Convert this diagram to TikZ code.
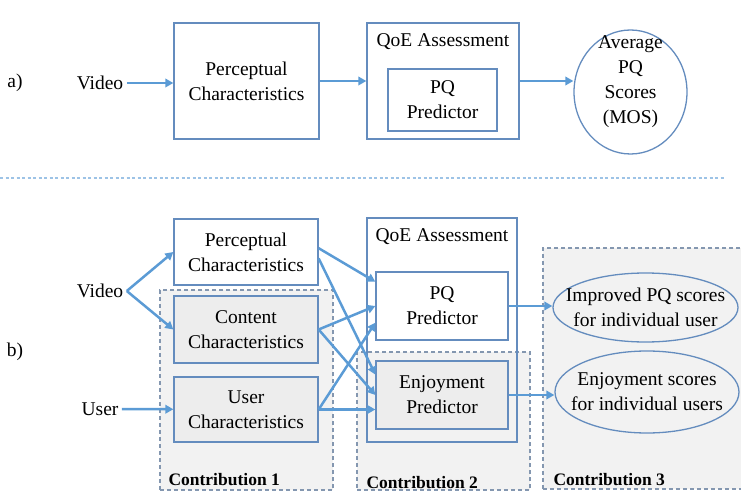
\documentclass[tikz,border=0pt]{standalone}
\usepackage{fontspec}
\setmainfont{Liberation Serif}
\usetikzlibrary{arrows.meta,shapes.geometric}
\definecolor{arrowblue}{HTML}{5B9BD5}
\definecolor{boxblue}{HTML}{648CBE}
\definecolor{dashgray}{HTML}{8497B0}
\definecolor{contgray}{HTML}{F2F2F2}
\definecolor{boxgray}{HTML}{EDEDED}
\definecolor{sepblue}{HTML}{9DC3E6}
\tikzset{
    box/.style={draw=boxblue, line width=1.3pt, fill=white, align=center},
    graybox/.style={box, fill=boxgray},
    oval/.style={draw=boxblue, ellipse, line width=1.3pt},
    contrib/.style={draw=dashgray, dash pattern=on 4pt off 3pt, line width=1.2pt, fill=contgray},
    flow/.style={draw=arrowblue, line width=2.5pt},
    clabel/.style={anchor=west, font=\fontsize{17.5}{20}\selectfont\bfseries},
}
\begin{document}
\begin{tikzpicture}[x=1pt, y=-1pt, font=\fontsize{19.5}{25}\selectfont, >={Triangle[length=8pt,width=8.5pt]}]
    \useasboundingbox (0,0) rectangle (741,494);
    \node[name=lbla] at (15,83) {a)};
    \node[name=vida] at (100,83) {Video};
    \node[name=perca, box, minimum width=145pt, minimum height=116pt] at (246.5,81) {Perceptual\\Characteristics};
    \node[name=qoea, box, minimum width=152pt, minimum height=116pt] at (443,81) {};
    \node[name=qoeatitle] at (443,42) {QoE Assessment};
    \node[name=pqa, box, minimum width=109pt, minimum height=62pt] at (442.5,100) {PQ\\Predictor};
    \node[name=mosa, oval, minimum width=113pt, minimum height=124pt,
        label={[align=center, yshift=10pt]center:Average\\PQ\\Scores\\(MOS)}] at (630.5,92) {};
    \draw[flow, ->] (vida.east) -- (vida.east -| perca.west);
    \draw[flow, ->] (perca) -- (qoea);
    \draw[flow, ->] (qoea.east) -- (qoea.east -| mosa.west);
    \draw[sepblue, line width=1.6pt, dash pattern=on 3pt off 2.5pt] (0,178) -- (725,178);

    \node[name=con1, contrib, minimum width=173pt, minimum height=200pt] at (246.5,390) {};
    \node[name=con2, contrib, minimum width=173pt, minimum height=138pt] at (443.5,421) {};
    \node[name=con3, contrib, minimum width=202pt, minimum height=241pt] at (644,368.5) {};
    \node[name=lblb] at (15,352) {b)};
    \node[name=vidb] at (100,291) {Video};
    \node[name=userb] at (100,409) {User};
    \node[name=percb, box, minimum width=144pt, minimum height=66pt] at (246,252) {Perceptual\\Characteristics};
    \node[name=contb, graybox, minimum width=144pt, minimum height=67pt] at (246,329.5) {Content\\Characteristics};
    \node[name=userc, graybox, minimum width=144pt, minimum height=65pt] at (246,409.5) {User\\Characteristics};
    \node[name=qoeb, box, fill=none, minimum width=150pt, minimum height=224pt] at (442,330) {};
    \node[name=qoebtitle] at (442,237) {QoE Assessment};
    \node[name=pqb, box, minimum width=132pt, minimum height=68pt] at (442,306) {PQ\\Predictor};
    \node[name=enjb, graybox, minimum width=132pt, minimum height=68pt] at (442,395) {Enjoyment\\Predictor};
    \node[name=imps, oval, minimum width=185pt, minimum height=69pt,
        label={[align=center]center:Improved PQ scores\\for individual user}] at (645.5,307.5) {};
    \node[name=enjs, oval, minimum width=184pt, minimum height=82pt,
        label={[align=center]center:Enjoyment scores\\for individual users}] at (647,392) {};
    \node[name=cl1, clabel] at (165,480) {Contribution 1};
    \node[name=cl2, clabel] at (363,483) {Contribution 2};
    \node[name=cl3, clabel] at (550,480) {Contribution 3};
    \draw[flow, ->] (vidb.east) -- (percb.west);
    \draw[flow, ->] (vidb.east) -- (contb.west);
    \draw[flow, ->] (userb) -- (userc);
    \draw[flow, ->] (percb.3) -- (pqb.160);
    \draw[flow, ->] (percb.-5) -- (enjb.163);
    \draw[flow, ->] (contb.east) -- (pqb.west);
    \draw[flow, ->] (contb.east) -- (enjb.west);
    \draw[flow, ->] (userc.east) -- (pqb.194);
    \draw[flow, ->] (userc.east) -- (userc.east -| enjb.west);
    \draw[flow, ->] (pqb.east) -- (pqb.east -| imps.west);
    \draw[flow, ->] (enjb.east) -- (enjb.east -| enjs.west);
\end{tikzpicture}
\end{document}
